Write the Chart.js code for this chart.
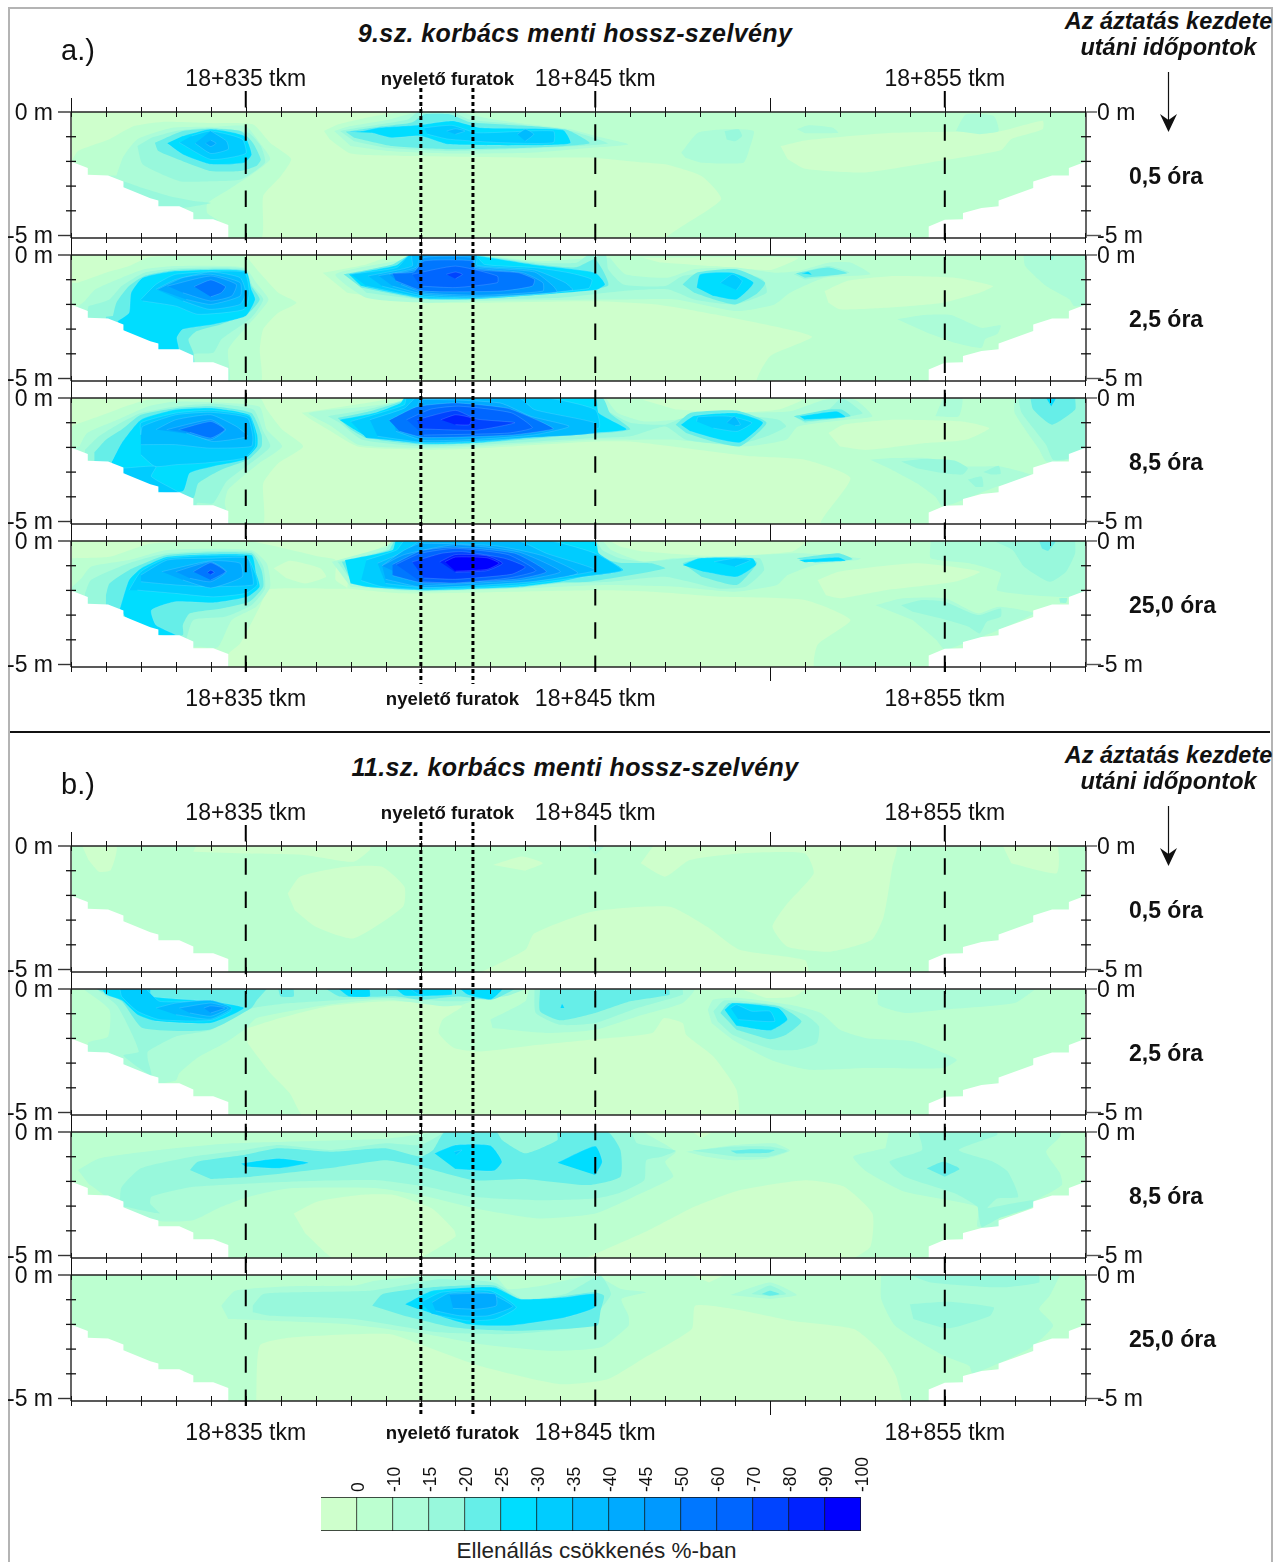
<!DOCTYPE html>
<html><head><meta charset="utf-8">
<style>
html,body{margin:0;padding:0;background:#fff;width:1288px;height:1562px;overflow:hidden;font-family:"Liberation Sans",Arial,sans-serif;color:#111}
canvas{position:absolute;left:0}
.t{position:absolute;white-space:nowrap;line-height:1}
.c{transform:translateX(-50%)}
.frame{position:absolute;left:8px;top:7px;width:1265px;height:1570px;border:2.5px solid #b4b4b4;box-sizing:border-box}
.rule{position:absolute;left:10px;top:731px;width:1260px;height:2px;background:#111}
</style>
<script src="https://cdn.jsdelivr.net/npm/chart.js@4/dist/chart.umd.js"></script>
</head><body>
<div class="frame"></div><div class="rule"></div>
<script>
// x = metres after km 18+800, y = depth in metres; each layer: [band index, [x,depth, x,depth, ...]]
const bandColors=['#CEFFCC','#BCFFD0','#ACFCD8','#98F8DC','#66EEE8','#00DDFF','#00CCFF','#00BBFF','#00AAFF','#0099FF','#0077FF','#0066FF','#0044FF','#0022FF','#0000FF'];
const legendLabels=['0','-10','-15','-20','-25','-30','-35','-40','-45','-50','-60','-70','-80','-90','-100'];
const timeLabels=['0,5 óra','2,5 óra','8,5 óra','25,0 óra'];
const stationTicks=[35,45,55];
const depthTicks=[0,1,2,3,4,5];
const maskLeft=[30,2,30.48,2.27,30.48,2.54,31.06,2.57,31.5,2.81,31.5,3.05,32.27,3.49,32.5,3.58,32.5,3.82,33.1,3.82,33.5,4.07,33.5,4.34,34.07,4.34,34.5,4.57,34.5,5.2,29,5.2,29,2];
const maskRight=[54.54,5.2,54.54,4.64,55,4.36,55.52,4.34,55.52,4.09,56.05,3.89,56.54,3.82,56.54,3.58,57.53,3.08,57.53,2.81,58.07,2.57,58.55,2.57,58.55,2.27,59.04,2,60,2,60,5.2];

const panelA05=[
[1,[30,2.05,30.2,1.58,31.1,1.1,31.8,.57,32.6,.4,34,.45,35.2,.5,35.7,1.25,36.3,1.9,36,2.6,35.5,3.4,35.4,5.2,30,5.2]],
[1,[37.24,.77,37.65,.5,38.7,.16,39.6,0,59.04,0,59.04,5.2,47,5.2,48.6,3.54,48.05,2.6,47,2.12,46.28,2.03,44.9,1.85,43.15,1.85,39.65,1.78,38,1.68,37.4,1.1]],
[0,[50.3,1.38,51,1.15,53.4,.85,55.3,.8,56.5,.8,57.8,.35,57.8,.7,56.9,1.1,56.6,1.55,54.55,2.05,52.66,2.45,51,2.3,50.5,1.9]],
[2,[31.3,2.57,31.5,1.8,31.9,1.1,32.9,.64,34,.6,35,.57,35.4,1.25,35.7,1.9,35.2,2.5,34.5,3.15,33.9,3.7,33.9,4.1,34.2,4.4,30,4.4,30,2.6]],
[3,[31.9,1.38,32.05,2.12,33.1,2.8,34,2.8,34.85,2.73,35.55,2.05,35.43,1.38,35.08,.84,34,.64,33,.77,32.3,1.04]],
[3,[31.5,2.8,32.1,3.1,32.8,3.4,33.5,3.6,34,3.68,33.1,3.9,32.5,3.85,31.5,3.1]],
[4,[32.4,1.24,32.5,1.58,33.2,1.99,34,2.39,34.85,2.39,35.3,2.19,35.43,1.92,35.2,1.24,34.85,.77,34,.68,33.2,.77,32.63,1.1]],
[5,[32.75,1.27,33.2,1.72,34,2.12,34.96,2.05,35.17,1.72,34.96,.97,34,.7,33.2,.97]],
[6,[33.1,1.24,34,1.92,35,1.68,34.9,1.1,34,.77,33.45,.97]],
[7,[33.55,1.27,34,1.68,34.5,1.51,34.45,1.18,34,.77]],
[8,[33.85,1.27,34,1.4,34.15,1.27,34,1.14]],
[2,[37.53,.77,38,.57,39.05,.32,39.64,.1,40.1,0,41.04,0,41.97,.27,43.14,.5,44.3,.7,45,.97,45.95,1.31,44.9,1.45,43.14,1.65,40.8,1.68,39.05,1.58,38,1.38]],
[3,[37.7,.77,38.2,.64,39.64,.3,39.93,0,40.92,0,41.39,.3,42.56,.46,44.3,.77,45.36,1.27,44.55,1.38,42.56,1.51,40.8,1.58,39.05,1.45,38.1,1.18]],
[4,[37.86,.8,38.82,.6,39.75,.43,40.1,.1,40.86,.1,41.39,.4,43.14,.57,44.2,.73,44.84,1.27,43.14,1.45,40.8,1.51,39.2,1.38,38.1,1.04]],
[5,[37.94,.8,38.35,.77,38.8,.64,39.87,.54,40.92,.36,41.74,.64,44.08,.73,44.29,1.27,43.14,1.35,40.8,1.31,40,.97,39.17,1.04,38.6,.84]],
[6,[40.1,.64,40.9,.54,41.6,.84,43.8,.77,43.8,1.24,42.3,1.24,40.8,1.1,40.2,.9]],
[7,[40.75,.77,41,.68,41.27,.77,41,.9]],
[7,[42.77,.9,43,.7,43.24,.9,43,1.18]],
[2,[47.46,1.65,47.94,.84,48.76,.7,49.53,.77,49.41,1.5,49.24,2.05,48.05,2.05,47.58,1.85]],
[3,[48.7,.77,49.1,.7,49.2,.97,49,1.18,48.76,1.11]],
[2,[50.77,.7,51.1,.54,51.8,.64,51.95,.84,51,.86]],
[2,[55.32,.77,55.6,.1,56.4,.16,56.54,.77,56,.9]]
];
const panelA25=[
[1,[30,1.12,30.2,1.12,31,.72,31.66,.45,32.2,.1,33,.04,34.95,.04,35.4,.72,35.93,1.53,36.45,1.93,35.93,2.34,35.5,3,35.4,3.82,35.4,5.2,30,5.2]],
[1,[37.2,.72,38.45,.38,39.3,0,59.04,0,59.04,5.2,49.64,5.2,50,4.1,51.2,3.3,48.4,2.4,46.75,2,45,1.87,41.7,1.93,40.1,1.93,37.9,1.53]],
[0,[46.35,.11,50.8,.11,50,.61,48.4,.45,46.85,.3]],
[0,[51.56,1.46,52.2,1.05,53.53,.85,55.28,.92,56.38,1.26,56,1.53,54.95,1.93,53.3,2.14,52,2.2,51.67,1.93]],
[2,[57.25,0,57.3,.45,57.9,1.26,58.57,1.8,58.7,2.07,59.04,2,59.04,0]],
[3,[58,0,58.13,0,58.06,.24]],
[2,[53.64,2.6,54.4,2.43,55.17,2.43,56.05,2.95,56.6,2.85,56.5,3.2,56.16,3.4,56.05,3.76,55.28,3.55,54.5,3.15]],
[2,[30.4,1.86,30.7,1.39,31.45,.92,32.1,.58,33,.45,34.96,.51,35.3,1.12,35.65,1.8,35.3,2.47,34.5,3.82,34.5,5.2,30,5.2,30,2.3]],
[3,[30.5,2.07,31.1,1.8,31.45,1.26,32.1,.72,33,.55,34.95,.55,35.2,1.26,35.5,1.8,35.16,2.54,34.3,3.42,34.07,3.96,33.5,4.03,33.5,5,30,5]],
[4,[31.2,2.47,31.3,1.93,31.66,1.26,32.1,.85,33,.61,34.95,.61,35.16,1.26,35.4,1.8,35.05,2.38,34.3,2.8,33.6,3.08,33.36,3.42,33.5,3.96,33.5,4.5,31,4.5,31,2.5]],
[5,[31.33,2.68,31.66,2.34,31.72,1.53,32.05,.92,33,.65,35,.65,35.16,1.39,35.27,1.8,35,2.47,34.07,2.81,33.2,3.01,33.03,3.35,33.08,3.9,31.9,3.9]],
[6,[32,1.8,32.43,1.19,33,.78,34.95,.69,35.1,1.53,34.95,2.2,33.63,2.4,33,2.07,32.05,1.86]],
[7,[32.43,1.39,33,.99,34,.69,34.84,.92,35,1.53,34.84,2,33.96,2.2,33.2,1.86]],
[8,[32.48,1.39,33.2,.92,34,.78,34.84,1.12,34.84,1.66,34,2,33.3,1.8]],
[9,[32.76,1.26,34,.85,34.73,1.19,34.6,1.66,34,1.86,33.2,1.53]],
[10,[33.52,1.28,34,1.01,34.42,1.28,34.3,1.53,34,1.69]],
[2,[45.42,.11,45.86,.78,47.07,.92,47.83,.58,49,.51,50.13,.72,50.8,.65,51.67,.31,52.32,.31,52.87,.78,51.56,.92,50.57,1.53,50.13,2,49.04,2.27,47.3,1.8,45.86,1.8,45,1.8,41.73,1.86,40.1,1.93,38.45,1.73,37.57,.78,39.54,.18,40,0,41.7,0,43.4,.25,45,.1]],
[3,[37.9,.78,39.3,.35,39.7,0,41.6,0,43.37,.31,44.46,.31,44.8,0,45.3,0,45.37,.58,45.8,1.19,47,1.26,47.5,.85,49,.65,49.8,.99,49.9,1.53,49,2,47.83,1.8,47.07,1.39,45.8,1.46,44,1.73,41.73,1.8,40,1.8,38.45,1.53]],
[3,[50.68,.78,51.67,.45,52.27,.72,51,.99]],
[4,[37.8,.78,39.2,.38,39.7,0,41.5,0,43.37,.38,44.46,.5,45,.18,45.37,1.23,44,1.53,41.73,1.78,40,1.77,38.3,1.32]],
[4,[47.5,1.19,47.9,.72,49.04,.58,49.86,1.12,49.6,1.59,49,2,48.4,1.8,47.83,1.53]],
[4,[50.74,.74,51.67,.51,52.2,.74,51,.92]],
[5,[37.95,.78,39.3,.42,39.7,0,41.4,0,43.37,.42,45,.72,45.28,1.19,45,1.42,41.73,1.77,40.1,1.77,38.3,1.26]],
[5,[47.9,1.32,48,.78,48.93,.72,49.53,1.12,49.04,1.8,48.38,1.66]],
[6,[48.58,1.12,48.93,.78,49.2,1.05,49.04,1.42]],
[5,[50.9,.74,51.1,.68,51.2,.8]],
[6,[38,.78,39.32,.51,39.7,0,41.55,0,41.83,.38,43.26,.51,44.25,.72,44.9,.99,44.8,1.36,41.73,1.73,40.1,1.73,38.45,1.26]],
[7,[38.5,.85,39.76,.45,39.76,0,41.6,0,41.62,.42,43.26,.61,44.14,1.12,44.35,1.42,41.73,1.73,40.1,1.66,38.9,1.26]],
[8,[38.8,.84,39.87,.51,40.03,0,41.5,0,41.56,.45,43.26,.69,43.8,1.26,43.9,1.5,41.73,1.69,40.1,1.59,39.2,1.26]],
[9,[39.1,.78,39.87,.58,40.1,.1,41.5,.1,41.56,.51,42.93,.72,43.5,1.12,43.5,1.46,41.73,1.63,40.1,1.53,39.44,1.19]],
[10,[39.2,.74,39.8,.69,40.1,.24,41.5,.24,41.56,.58,42.8,.72,43.26,.99,43.2,1.26,42.3,1.46,40.1,1.46,39.3,1.05]],
[11,[39.76,.78,41,.45,42.2,.85,42.2,1.12,41,1.32,40,1.26]],
[12,[40.74,.78,41,.69,41.2,.78,41,.96]]
];
const panelA85=[
[1,[30,1.15,30.8,.74,31.55,.34,32.2,.07,33.08,0,35.4,0,35.6,.47,36.04,1.28,36.64,1.96,35.93,2.64,35.5,3.45,35.45,5.2,30,5.2]],
[1,[36.6,.6,38.45,.2,39.43,0,59.04,0,59.04,5.2,51.45,5.2,52.3,3.24,51,2.5,49.48,2.36,47.6,2.03,46,1.76,45,1.76,41.73,2.03,40.1,2.09,38.2,1.96,37.35,1.28,36.8,.81]],
[0,[51.67,1.42,52.1,1.08,53.53,.88,55.5,.95,56.27,1.22,55.6,1.69,54.4,1.83,52.76,2.1,52,1.96]],
[0,[46.35,.07,50.9,.07,50.24,.47,48.93,.61,47.3,.47]],
[2,[57,0,57,.61,57.7,2.09,57.9,2.57,58.57,2.5,59.04,2.03,59.04,0]],
[3,[57.1,0,57.2,.6,57.9,1.9,58.1,2.5,58.57,2.45,59.04,2,59.04,0]],
[4,[57.45,0,57.53,.47,58.07,1.08,58.73,.47,58.73,0]],
[5,[57.9,0,58.18,0,58.05,.34]],
[2,[54.95,0,55.5,0,55.4,.74,54.73,.74]],
[2,[52.87,2.5,53.53,2.43,54.5,2.43,55.6,2.77,56.6,2.77,57.58,3.18,56.5,3.58,54.95,4.4,54.73,4,54.2,3.45,53.4,2.84]],
[3,[53.75,2.57,54.4,2.47,55.28,2.53,55.66,2.84,55.5,3.1,54.95,3.04,54.2,2.84]],
[3,[55.66,3.3,56.05,3.18,56.1,3.58,55.88,3.6]],
[3,[56.1,3,56.54,2.74,56.6,3.07,56.32,3.1]],
[2,[30.24,1.96,30.46,1.42,31.33,.88,32.2,.34,33,.14,35.38,.34,35.6,1.28,36.04,1.96,35.38,2.64,34.5,3.7,34.4,4.26,34.5,5.2,30,5.2,30,2]],
[3,[30.4,2.1,30.8,1.55,31.33,1.08,32,.61,33,.34,34.07,.23,35.22,.47,35.5,1.35,35.7,1.96,35.27,2.5,34.45,3.38,34.07,4.26,33.6,4.26,33.6,5,30.4,5]],
[4,[30.67,2.2,31,1.69,31.45,1.28,32,.68,33,.41,34.07,.34,35.16,.61,35.45,1.49,35.45,1.96,35.06,2.5,34.3,2.9,33.64,3.45,33.5,4.05,32.97,4,30.67,4]],
[5,[31.17,2.57,31.45,1.82,32,.88,33,.47,34.07,.41,35.1,.68,35.33,1.49,35.33,1.96,34.95,2.5,34.07,2.77,33.4,3.04,33.2,3.78,31.9,3.78,31.17,2.78]],
[6,[32,1.49,32,1.01,33,.61,34,.5,35.1,.74,35.27,1.49,35.27,1.96,34.95,2.43,33.85,2.63,33,2.7,32.4,2.77,32,2.3]],
[6,[31.5,2.84,32.43,2.77,32.3,3.18,33.2,3.92,32.5,3.8,31.5,3.04]],
[7,[32,1.49,32.05,1.15,33,.68,34,.58,35.05,.81,35.2,1.55,35.16,1.96,33.96,2.03,33,1.89,32,1.89]],
[8,[32.43,1.28,33,.88,34,.68,34.73,1.15,35.05,1.55,34.07,1.76,33.5,1.49]],
[9,[32.74,1.28,34,.88,34.42,1.28,34,1.69,33.3,1.42]],
[10,[33.08,1.28,34,.95,34.4,1.28,34,1.62,33.4,1.39]],
[2,[45.3,0,45.64,.61,46.4,.95,47.3,.88,49.04,.61,50.57,.54,51.56,.07,52.43,.07,52.93,.74,52.2,.88,50.8,1.15,50.46,1.69,49.26,1.96,47.29,1.69,45.97,1.69,45,1.69,41.73,1.96,40.1,2.03,38.23,1.89,37.46,1.15,36.8,.61,38.45,.34,39.43,.14,39.54,0]],
[3,[37.35,.74,38.45,.47,39.54,.07,39.54,0,45.1,0,45.3,.47,46,1,47,1.08,47.5,.81,49,.68,50.24,.88,50.46,1.15,49.9,1.55,49.04,1.89,47.6,1.69,47,1.15,46,1.55,45,1.62,41.73,1.89,40.1,1.96,38.34,1.69,37.7,1.01]],
[3,[50.68,.74,51.67,.47,52.05,0,52.65,.61,52.3,.74,51,1.01]],
[4,[37.63,.81,38.55,.54,39.6,.07,39.54,0,45.2,0,45.42,.61,46,1.28,44,1.55,41.73,1.82,40.1,1.89,38.45,1.62,38,1.28]],
[4,[47.3,1.08,47.73,.6,49.04,.51,49.9,1,49.15,1.95,48.33,1.75,47.6,1.42]],
[4,[50.68,.74,51.67,.47,52.05,.47,52.3,.74,51,.95]],
[5,[37.68,.88,38.66,.61,39.43,.2,39.54,0,45,0,45.1,.61,45.9,1.28,44,1.49,41.73,1.8,40.1,1.86,38.45,1.55,38.1,1.28]],
[5,[47.45,1.08,47.83,.72,49.04,.61,49.8,1,49.15,1.8,48.38,1.62,47.72,1.35]],
[5,[50.85,.74,51.9,.54,52.16,.77,51,.88]],
[6,[47.9,.95,47.94,.77,48.82,.74,49.48,1,49.06,1.35,48.38,1.22]],
[7,[48.76,1,48.98,.74,49.15,1.08,49,1.12]],
[6,[38,.95,38.66,.68,39.54,.27,39.6,0,43.6,0,45,.47,45.1,1.22,42.93,1.62,41.73,1.76,40.1,1.82,38.45,1.62]],
[7,[38.55,.88,39.54,.41,39.87,0,42.82,0,43.26,.47,45,1.01,45,1.42,42.93,1.62,41.73,1.73,40.1,1.8,38.77,1.55]],
[8,[39.2,.88,39.87,.45,40,.07,42.27,.2,43.15,.74,44.25,1.15,43.26,1.49,41.73,1.66,40.1,1.72,39.3,1.35]],
[10,[39.1,.9,39.9,.35,41,.2,42.5,.42,43.5,1,43.8,1.25,42.6,1.5,40.1,1.6,39.4,1.35]],
[11,[39.6,.88,40.3,.45,41.1,.33,42.6,.6,43.2,1.2,42.5,1.42,40.1,1.5]],
[12,[39.9,.88,41,.5,41.6,.85,42.7,1,41.6,1.3,40,1.25]],
[13,[40.58,.88,41,.68,41.45,.81,41.4,1.08,41,1.08]]
];
const panelA250=[
[1,[30,.7,31.1,.64,32.3,.1,35.16,.03,37.13,.64,37.57,.77,37.57,1.58,37.9,1.92,35.66,1.96,35.4,2.66,34.84,4.15,34.5,4.58,34.5,5.2,30,5.2]],
[0,[35.8,1.1,36.26,.8,37.13,1.1,37.3,1.45,36.7,1.72,36.15,1.5]],
[1,[38,.9,39,.16,39.3,0,59.04,0,59.04,5.2,51.3,5.2,51.36,4.2,52.3,3.2,51,2.39,48.64,2.26,46.65,2.05,45,1.99,39.54,2.12,37.9,1.92]],
[0,[45.45,.03,51,.03,50.63,.43,48.64,.63,46.4,.43,45.72,.23]],
[0,[51.36,1.58,51.96,1.24,54.2,.9,56,1.24,55.28,1.65,53.3,1.99,52,2.32,51.6,2.2]],
[2,[54.6,0,54.6,.7,55.7,.9,56.6,1.3,56.5,2,58.47,2.27,59,2,59.04,0]],
[3,[56.4,0,56.94,.36,57.27,1.04,58,1.65,58.47,1.24,58.73,.5,58.73,0]],
[4,[57.7,0,58.17,0,57.96,.39,57.78,.3]],
[2,[53.02,2.6,53.8,2.32,55,2.32,55.94,2.93,56.55,2.66,57.54,2.93,56.54,3.6,55.54,4.15,55,4.4,54.75,4,54.08,3.2]],
[3,[53.75,2.6,54.35,2.39,55,2.46,55.94,3,56.6,2.73,56.6,3.07,56.2,3.27,56,3.74,55.68,3.47,54.88,3.13,54.08,2.86]],
[3,[58.27,2.32,58.5,2.32,58.47,2.5,58.3,2.5]],
[2,[30.3,1.51,30.57,1.04,31.66,.77,32.76,.36,35.16,.36,35.6,.9,35.7,1.85,35.3,2.66,34.6,3.2,34.2,4.3,33.5,4.3,33.5,5,30,5,30,1.9]],
[3,[30.4,2.12,30.57,1.58,31.66,.9,32.76,.5,35.16,.43,35.5,1.04,35.55,1.92,35.16,2.6,34.4,3.07,33.5,3.2,33.3,4.01,33.3,4.5,30.4,4.5]],
[4,[31,2.19,31.1,1.72,31.66,1.18,32.76,.57,35.16,.5,35.45,1.18,35.5,1.85,35.1,2.46,34.3,2.73,33.4,2.93,33.2,3.4,33.2,3.81,32.54,3.81,31,3]],
[5,[31.4,2.73,31.66,1.58,32,1.11,32.76,.64,35.16,.57,35.3,1.31,35.4,1.85,35.05,2.26,34.07,2.5,32.97,2.46,32.3,2.8,32.43,3.4,33,3.81,32.5,3.81,31.55,3.07]],
[6,[31.66,1.99,32,1.24,32.76,.7,35,.61,35.27,1.31,35.33,1.78,35,2.12,34.07,2.26,32.97,2.12,31.9,1.99]],
[7,[32,1.38,32.76,.77,34,.7,35.05,.7,35.2,1.45,35.2,1.78,34,1.85,33,1.78,32,1.65]],
[8,[32.6,1.24,34,.8,34.84,.9,34.9,1.45,34,1.9,33.2,1.58]],
[9,[33,1.24,34,.84,34.45,1.24,34,1.65,33.4,1.51]],
[10,[33.5,1.24,34,.88,34.42,1.24,34,1.58]],
[12,[33.9,1.27,34,1.18,34.1,1.27,34,1.36]],
[2,[37.46,.84,39,.23,39.3,0,45.18,0,45.45,.36,46.38,.84,47.2,.7,48.64,.63,50.9,.5,52.6,.7,52.5,.77,51.3,.97,50.5,1.38,50.2,1.78,49,2.05,47.3,1.85,45.3,1.78,44,1.85,42.8,1.92,40,2.05,38,1.85]],
[3,[37.63,.84,39,.36,39.2,0,45,0,45.2,.36,45.7,.7,46.38,.84,47,.77,48,.66,49.7,.7,49.83,1.18,49.3,1.85,48.5,1.92,47,1.45,45.45,1.65,44,1.72,42.8,1.88,40.1,2,38.45,1.85,38,1.58]],
[4,[37.75,.84,39.1,.36,39.27,0,45,0,45.1,.64,45.7,.88,46.6,.9,47,1.11,44.8,1.65,44,1.68,42.8,1.88,40.1,2,38.45,1.85,38,1.58]],
[4,[47.5,.9,48,.7,49.43,.7,49.63,.9,49.05,1.78,48.04,1.45]],
[4,[50.76,.7,51.96,.5,52.36,.74,51.3,.88]],
[5,[37.84,.77,39.2,.36,39.3,0,45,0,45.1,.5,45.8,1.18,44.65,1.45,44,1.65,42.8,1.85,40.1,1.99,38.45,1.85,38,1.72]],
[5,[47.5,.97,47.98,.7,49.5,.7,49.6,.97,49.05,1.45,48.1,1.24]],
[5,[50.83,.77,51.96,.66,52.16,.8,51,.86]],
[6,[48.4,.84,49,.7,49.44,.77,49,1.04]],
[6,[38.45,.77,39.32,.36,39.54,0,43.7,0,45,.5,45.76,1.18,45,1.38,42.8,1.78,40.1,1.96,38.9,1.85,38.3,1.6]],
[7,[38.77,.9,39.54,.43,40,0,42.8,0,43.6,.5,45,1.18,43.26,1.58,40.1,1.88,39,1.72]],
[8,[38.9,1,39.5,.4,40,.1,42.17,.2,43.5,.6,44.5,1.3,43.15,1.65,40.1,1.88,39,1.55]],
[9,[38.9,1,39.54,.55,41,.15,42.82,.45,44,1.24,42.82,1.6,40.1,1.8]],
[10,[39.2,.95,40,.4,41,.25,42.7,.5,43.6,1.24,42.7,1.55,40.1,1.7,39.2,1.4]],
[11,[39.3,.95,40,.5,41,.3,42.5,.55,43.3,1.2,42.5,1.5,41,1.7,40,1.65]],
[12,[39.76,.85,40.6,.5,41.2,.43,42.4,.7,43,1.05,42.6,1.35,41,1.55,40.1,1.5]],
[13,[40.55,.84,41,.55,41.9,.6,42.35,.9,41.9,1.2,41,1.27]],
[14,[40.7,.84,41,.65,41.9,.68,42.25,.9,41.9,1.15,41,1.22]]
];
const panelB05=[
[0,[30.32,0,31.3,0,31.14,.97,30.8,1.04,30.5,.57]],
[0,[33.5,.23,33.6,0,38.55,0,38.55,.16,38.08,.64,36.67,.36,35,.3]],
[0,[36.2,1.92,36.55,1.24,37.85,.84,38.9,.84,39.54,1.65,39.5,2.46,38.08,3.74,37,3.27,36.4,2.6]],
[0,[42.08,.77,42.9,.43,43.5,.7,43,1]],
[0,[41.6,5.2,43,4.2,43.25,3.54,44.9,2.66,47.13,2.46,48.2,3.27,49.13,4.2,51,4.62,51.13,5.2]],
[0,[46.3,.7,47,1.24,47.7,.57,49.13,.3,51,.3,51.25,1.1,50.5,2.32,50.07,3.27,50.5,4.08,51.72,4.28,52.9,3.81,53.25,2.86,53.5,.84,53.6,0,46.66,0]],
[0,[56.66,0,58.2,0,58.2,1.1,56.9,.7]],
[2,[44.78,0,45.25,0,45,.36]]
];
const panelB25=[
[0,[35.05,1.58,35.82,1.24,37.35,.7,39.1,.5,41.18,.7,40.63,1.24,40.52,1.78,40.96,2.39,41.73,2.53,43.37,2.26,45,2.03,46.63,1.78,46.96,1.18,47.5,1.38,47.6,1.85,48.38,2.73,49.04,4.08,49.04,5.2,36.7,5.2,36.26,4.22,35.7,3.4,35.05,2.19]],
[0,[49.15,0,51,0,50.7,.3,49.9,.36,49.5,.16]],
[0,[32.3,0,32.54,.19,33,.3,34,.32,34.7,.16,34.7,0]],
[2,[30.35,0,31.1,.84,31.06,1.92,30.5,2.16,30.5,2.6,32.5,3.8,33,3.7,33.1,3.4,33.6,2.8,34.4,2.19,35,1.6,35.3,1.18,37.35,.64,39,.43,40.63,.7,41.18,.64,41.8,.3,42.7,0]],
[3,[30.73,0,31.33,.7,31.94,2.53,31.5,2.69,32.3,3.5,32.2,2.86,32.2,2.53,33,1.92,34,1.66,35,.9,35.2,.77,36.26,.57,39,.36,41.07,.5,42.5,.27,43,0]],
[4,[30.73,0,31.45,.5,32.05,1.58,33.96,1.65,35.16,.77,35.33,.43,35.6,0]],
[4,[35.93,0,36,.3,36.37,.3,36.37,0]],
[4,[37.3,0,37.68,.3,38.55,.32,39.33,.3,40,.43,41.07,.3,42.06,.43,42.7,0]],
[5,[30.9,.03,31,.23,31.45,.46,31.9,1.04,32.43,1.3,34,1.38,34.95,.77,34,.5,32.3,.3,32.27,0]],
[5,[37.66,0,37.95,.3,38.55,.3,38.55,0]],
[5,[39.3,0,39.55,.27,40.9,.23,40.9,0]],
[5,[41.13,0,41.35,.23,42,.43,42.2,.23,42.36,0]],
[6,[39.7,0,40.08,.32,40.03,0]],
[6,[31.4,0,31.45,.3,31.9,.9,32.54,1.24,34,1.27,34.6,.84,34,.5,32.54,.5,32.15,0]],
[7,[32.43,.77,33,.57,34,.46,34.6,.77,34,1.22,33,1.04]],
[8,[33.1,.77,34,.57,34.5,.77,34,1.1,33.4,.97]],
[9,[33.8,.77,34,.68,34.4,.77,34,.97]],
[2,[42,1.24,43,.5,43.15,0,47.83,0,47.5,.57,46.2,1.11,45,1.65,43.6,1.78,42.06,1.58]],
[3,[43.26,0,43.3,.97,44,1.45,45,1.38,46.2,.77,47.5,.23,47.5,0]],
[4,[43.42,0,43.42,.9,44,1.27,45,.97,46,.5,47.12,.23,47.12,0]],
[5,[44,.77,44.05,.6,44.12,.77]],
[2,[53.1,0,53.1,.64,53.86,.97,54.95,.84,57,.57,57.6,0]],
[2,[48.22,.84,48.38,.43,49.15,.36,50.57,.64,51.45,.97,52,1.65,52.76,1.99,54.08,2.12,55.34,2.86,54.95,3.2,52.76,3.2,51.12,3.27,50.13,2.93,48.93,2.05,48.33,1.38]],
[3,[48.38,.9,48.7,.46,50.13,.64,51,1.04,51.4,1.51,51.34,2.19,50.8,2.46,50.13,2.46,48.93,1.85,48.5,1.31]],
[4,[48.58,.97,48.82,.57,50.24,.7,50.9,1.31,50.46,1.85,50,2.03,49.04,1.65]],
[5,[48.7,.84,48.93,.57,50.24,.77,50.5,1.24,50,1.68,49.04,1.49]],
[6,[48.87,.77,49.04,.64,49.48,.9,50,.9,50.13,1.31,49.1,1.24]]
];
const panelB85=[
[0,[36.37,3.3,37.04,2.82,38.25,2.55,39.24,2.55,40.33,3.1,40.96,3.97,41,4.24,39.8,5.2,37.6,5.2,36.7,4.1]],
[0,[44.57,5.2,46.5,4,47.83,3.03,49.15,2.35,51,1.95,52.1,2.2,52.93,3.3,52.87,4.65,52.3,5.2]],
[0,[47.78,0,48.33,0,48.05,.25]],
[2,[30.2,1.54,30.8,1.07,32.54,.73,34.6,.46,39,.27,40.63,0,46.35,0,46.5,.1,47.3,.8,47,1.2,47.23,1.81,46.3,2.49,45,3.3,43.37,3.5,41.73,3.14,40.2,2.62,38.77,2.28,36.26,2.28,35.1,2.62,34.3,3.03,33.5,3.57,32.5,3.6,31.44,3.03,30.5,2.1]],
[3,[31.4,3.03,31.44,2.26,32,1.47,33.47,1,34.95,.73,35.93,.53,37.46,.73,39,.46,40,.53,40.63,.05,40.63,0,46,0,46.2,.46,47.3,.76,46.9,1,46.46,1.14,46.4,1.95,45.64,2.49,45,2.69,43.37,2.76,41.5,2.62,40.1,2.2,38.77,1.95,36.26,2.01,33.5,2.22,32.3,2.62,32.27,2.9,32.54,3.3,31.55,3.03]],
[4,[33.4,1.54,33.63,1.2,34.95,.93,35.93,.66,37.46,.8,39,.66,40,1,40.36,.73,40.7,0,42.17,0,42.33,.32,43,.86,43.92,.32,43.92,0,45.36,0,45.72,.73,45.72,1.81,44.8,2.15,43,1.9,41.5,1.95,40,1.4,39,1.14,37.35,1.47,35.16,1.81,34,1.9]],
[5,[34.86,1.27,35.93,1.07,36.8,1.24,35.93,1.47,35,1.41]],
[5,[40.4,.86,41,.53,42,.55,42.33,1.2,42.1,1.57,41,1.5]],
[5,[43.92,1.24,45,.57,45.2,1.2,45,1.74]],
[6,[40.96,.8,41.18,.73,41.02,.93]],
[2,[47.6,.8,49,.53,50.13,.46,50.57,.76,49.9,1.07,48.93,1.14,48.16,1]],
[3,[47.78,.76,48.93,.59,50,.59,50.5,.77,49.97,1,49.04,1]],
[4,[48.87,.76,49.48,.7,50.13,.73,49.97,.84,49.04,.87]],
[2,[53.4,0,58.3,0,58.3,.19,57.9,.8,58.3,1.68,58.35,2.15,57.53,2.82,56.54,3.5,56.54,3.84,55.94,3.84,55.94,3.03,53.86,2.42,52.76,1.6,52.38,1,53.3,.66]],
[3,[54.24,0,54.35,.73,53.42,1.2,53.86,1.81,55.3,2.49,55.94,3.03,56.05,3.5,56.2,3.1,56.5,2.69,57.1,2.62,56.8,1.6,56.38,1.2,55.4,.73,56.5,.12,56.5,0]],
[3,[56.2,3.09,57.53,2.76,57.53,3.03,56.54,3.5,56.05,3.84,55.94,3.03]],
[4,[54.48,1.47,54.95,1.2,55.34,1.4,55.42,1.51,55,1.81]]
];
const panelB250=[
[0,[35.3,5.2,35.4,2.86,36.3,2.53,39.1,2.39,40.1,2.86,41.7,3.68,44,4.42,45.35,4.22,46.35,3.4,47.76,2.19,47.86,1.24,48.96,1.38,50.6,1.85,52.4,2.19,53.2,3.14,53.6,4.08,53.8,5.2]],
[0,[47.76,0,48.66,0,48.26,.3]],
[2,[53.18,0,53.18,.97,53.58,2.05,54.98,3.27,55.7,3.68,55.8,4,57.4,3,58.1,2.05,57.7,1.38,58,.84,58.3,0]],
[3,[54,1.18,55.1,1.08,56.4,1.31,56.3,1.65,55.1,2.16,54.1,1.78]],
[3,[54,0,54.6,.3,56.6,.5,57.7,.3,57.7,0]],
[2,[34.3,1.24,34.7,.64,36.3,.46,38.1,.43,38.7,.23,40.53,0,42.1,0,42.5,.57,43.5,.43,44.95,0,45.75,.57,46.45,.7,45.75,.97,45.95,1.65,45.95,2.05,45.15,2.93,43.74,3.07,41.73,2.8,40.13,2.39,37.92,1.99,35.7,1.85,34.5,1.78]],
[3,[35.2,1.24,35.5,.77,36.5,.7,38.5,.64,39.73,.36,40.53,.16,42.1,.3,42.94,.97,44.14,.77,45.15,.03,45.45,.77,45.15,1.38,44.75,2.05,42.54,2.39,40.53,2.32,38.1,1.78,35.7,1.65,35.2,1.51]],
[4,[38.62,1.24,38.92,.77,40.33,.5,42.1,.43,42.94,1.04,44.95,.7,45.25,.84,45.15,1.45,45.05,2.05,42.54,2.26,40.93,2.12,39.53,1.65]],
[5,[39.56,1.18,40.33,.64,42.1,.5,42.84,.97,44.14,.9,45,.77,45,1.31,44.14,1.72,42.54,2.05,41.33,1.99,39.93,1.38]],
[6,[40,1.11,40.6,.7,42,.64,42.74,1.31,42.14,1.78,41.33,1.85,40.33,1.58]],
[7,[40.33,1.11,40.83,.73,41.93,.73,42.64,1.27,41.93,1.65,41.13,1.65,40.43,1.45]],
[8,[40.83,.77,42.13,.77,42.17,1.24,41.63,1.38,40.93,1.35]],
[2,[48.86,.81,50,.3,50.77,.81,50,.97]],
[3,[49.47,.77,50,.43,50.46,.77,50,.86]],
[4,[49.76,.77,50,.64,50.27,.77,50,.84]]
];

const xMin=30,xMax=59.04;
const FONT='"Liberation Sans",Arial,sans-serif';
function pairs(a){const o=[];for(let i=0;i<a.length;i+=2)o.push({x:a[i],y:a[i+1]});return o;}
const axisPlugin={id:'axisPlugin',afterDraw(ch){
  const c=ch.ctx,{left,right,top,bottom}=ch.chartArea,x=ch.scales.x,y=ch.scales.y;
  const seg=(a,b,d,e,w,col)=>{c.beginPath();c.lineWidth=w;c.strokeStyle=col;c.moveTo(a,b);c.lineTo(d,e);c.stroke();};
  c.save();
  seg(left,top,right,top,1.6,'#222');seg(left,bottom,right,bottom,1.6,'#222');
  seg(left,top,left,bottom,1.8,'#555');seg(right,top,right,bottom,1.8,'#555');
  for(let v=30;v<=59;v++){const p=Math.round(x.getPixelForValue(v))+.5;
    const tall=(v===50);
    seg(p,top-(tall||v===30?14:5),p,top+(tall?0:5),1,'#111');
    seg(p,bottom-(tall?0:5),p,bottom+(tall?14:5),1,'#111');}
  for(const v of depthTicks){const p=y.getPixelForValue(v);
    if(v===0||v===5){seg(left-13,p,left,p,1.4,'#333');seg(right,p,right+(v?15:11),p,1.4,'#555');}
    else{seg(left-5,p,left+5,p,1.3,'#111');seg(right-5,p,right+5,p,1.3,'#111');}}
  c.restore();
}};
function panel(layers,base,topPx,bottomPx,labelsTop,labelsBottom){
  const M=56,h=bottomPx-topPx,cv=document.createElement('canvas');
  cv.width=1288;cv.height=h+2*M;cv.style.top=(topPx-M)+'px';document.body.appendChild(cv);
  const all=[[base,[xMin,0,xMax,0,xMax,6,xMin,6]],...layers];
  const ds=all.map(([b,pts],i)=>({data:pairs(pts),showLine:true,pointRadius:0,fill:'shape',
    backgroundColor:bandColors[b],borderColor:b>=5?'rgba(190,235,255,.3)':bandColors[b],borderWidth:b>=5?.6:0,
    tension:.18,order:all.length-i+2}));
  ds.push({data:pairs(maskLeft),showLine:true,pointRadius:0,fill:'shape',backgroundColor:'#fff',borderWidth:0,order:1});
  ds.push({data:pairs(maskRight),showLine:true,pointRadius:0,fill:'shape',backgroundColor:'#fff',borderWidth:0,order:0});
  const stationTick=(s,show,pad)=>({type:'linear',min:xMin,max:xMax,position:s,
    afterBuildTicks:a=>{a.ticks=stationTicks.map(v=>({value:v}));},
    afterFit:a=>{a.height=M;},
    grid:{display:false,drawTicks:false},border:{display:false},
    ticks:{display:show,padding:pad,autoSkip:false,maxRotation:0,minRotation:0,color:'#111',font:{family:FONT,size:23},callback:v=>'18+8'+v+' tkm'}});
  const depthAxis=(s,pad,w)=>({type:'linear',min:0,max:h/24.7,reverse:true,position:s,
    afterBuildTicks:a=>{a.ticks=depthTicks.map(v=>({value:v}));},
    afterFit:a=>{a.width=w;},
    grid:{display:false,drawTicks:false},border:{display:false},
    ticks:{padding:pad,labelOffset:1.5,autoSkip:false,color:'#111',font:{family:FONT,size:23},callback:v=>(v===0?'0 m':(v===5?'-5 m':''))}});
  new Chart(cv,{type:'scatter',data:{datasets:ds},plugins:[axisPlugin],options:{responsive:false,animation:false,events:[],
    layout:{padding:0},plugins:{legend:{display:false},tooltip:{enabled:false},title:{display:false}},
    scales:{x:stationTick('bottom',labelsBottom,19),xt:stationTick('top',labelsTop,19),y:depthAxis('left',18,71),y2:depthAxis('right',11,202)}}});
}
function text(s,l,t,size,extra,center){const d=document.createElement('div');d.className='t'+(center?' c':'');d.textContent=s;
  d.style.left=l+'px';d.style.top=t+'px';d.style.fontSize=size+'px';if(extra)d.style.cssText+=extra;document.body.appendChild(d);}
const BI='font-weight:bold;font-style:italic;';
const groups=[
 {tops:[112,255,398,541],bots:[238,381,524,667],data:[panelA05,panelA25,panelA85,panelA250],base:[0,0,0,0],title:'9.sz. korbács menti hossz-szelvény',tag:'a.)',off:0},
 {tops:[846,989,1132,1275],bots:[972,1115,1258,1401],data:[panelB05,panelB25,panelB85,panelB250],base:[1,1,1,1],title:'11.sz. korbács menti hossz-szelvény',tag:'b.)',off:734}];
for(const g of groups){
  g.data.forEach((d,i)=>panel(d,g.base[i],g.tops[i],g.bots[i],i===0,i===3));
  text(g.title,575,g.off+21,25,BI+'letter-spacing:.4px;',true);
  text(g.tag,61,g.off+36,29);
  text('Az áztatás kezdete',1168.5,g.off+10,23.5,BI,true);
  text('utáni időpontok',1168.5,g.off+36,23.5,BI,true);
  text('nyelető furatok',447.5,g.off+70,18.6,'font-weight:bold;',true);
  text('nyelető furatok',452.5,g.off+690,18.6,'font-weight:bold;',true);
  timeLabels.forEach((s,i)=>text(s,1129,g.tops[i]+53,23,'font-weight:bold;'));
  const a=document.createElementNS('http://www.w3.org/2000/svg','svg');
  a.setAttribute('width','30');a.setAttribute('height','66');a.style.cssText='position:absolute;left:1153px;top:'+(g.off+70)+'px';
  a.innerHTML='<line x1="15.5" y1="2" x2="15.5" y2="58" stroke="#111" stroke-width="1.2"/><path d="M7 44 L15.5 62 L24 44 L15.5 50 Z" fill="#111"/>';
  document.body.appendChild(a);
}
text('Ellenállás csökkenés %-ban',596.5,1540,22.5,'color:#222;',true);
// dashed chainage guides and dotted borehole guides, over all panels
const guideStations=[35,45,55],boreholeStations=[40.01,41.5];
const spans=[[91,678],[825,1412]],dotSpans=[[88,684],[822,1417]];
const gc=document.createElement('canvas');gc.width=1288;gc.height=1562;gc.style.top='0';gc.style.pointerEvents='none';document.body.appendChild(gc);
const gds=[];
for(const s of spans)for(const v of guideStations)gds.push({data:[{x:v,y:s[0]},{x:v,y:s[1]}],showLine:true,pointRadius:0,borderColor:'#000',borderWidth:2,borderDash:[16.5,16.7]});
for(const s of dotSpans)for(const v of boreholeStations)gds.push({data:[{x:v,y:s[0]},{x:v,y:s[1]}],showLine:true,pointRadius:0,borderColor:'#000',borderWidth:3,borderDash:[4,3]});
new Chart(gc,{type:'scatter',data:{datasets:gds},options:{responsive:false,animation:false,events:[],layout:{padding:{left:71,right:202}},
  plugins:{legend:{display:false},tooltip:{enabled:false}},
  scales:{x:{type:'linear',min:xMin,max:xMax,display:false},y:{type:'linear',min:0,max:1562,reverse:true,display:false}}}});
// colour scale
const lc=document.createElement('canvas');lc.width=600;lc.height=100;lc.style.left='300px';lc.style.top='1445px';document.body.appendChild(lc);
new Chart(lc,{type:'bar',data:{labels:['%'],datasets:bandColors.map((col,i)=>({label:legendLabels[i],data:[1],backgroundColor:col,borderColor:'#111',borderWidth:1,barPercentage:1,categoryPercentage:1,stack:'s'}))},
 options:{indexAxis:'y',responsive:false,animation:false,events:[],layout:{padding:{left:21,right:39,bottom:14}},
  plugins:{legend:{display:false},tooltip:{enabled:false}},
  scales:{x:{type:'linear',stacked:true,min:0,max:15,position:'top',afterFit:a=>{a.height=52;},
     afterBuildTicks:a=>{a.ticks=legendLabels.map((_,i)=>({value:i+1}));},
     grid:{display:false,drawTicks:false},border:{display:false},
     ticks:{autoSkip:false,minRotation:90,maxRotation:90,padding:5,labelOffset:23,color:'#111',font:{family:FONT,size:17.5},callback:v=>legendLabels[v-1]}},
   y:{stacked:true,display:false}}}});
</script>
</body></html>
